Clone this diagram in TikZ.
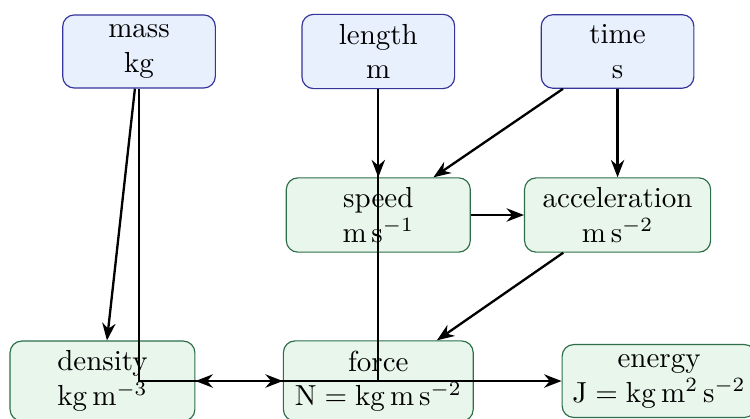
\documentclass[tikz,border=0pt]{standalone}
\usepackage{amsmath}
\usepackage{xcolor}
\usepackage{tikz}
\usetikzlibrary{arrows.meta}

\definecolor{baseline}{HTML}{34349A}
\definecolor{basefill}{HTML}{E8EFFD}
\definecolor{derivedline}{HTML}{2C6E49}
\definecolor{derivedfill}{HTML}{E9F6EC}

\begin{document}
\begin{tikzpicture}[
  base/.style={draw=baseline,fill=basefill,rounded corners=4pt,align=center,minimum width=1.85cm},
  derived/.style={draw=derivedline,fill=derivedfill,rounded corners=4pt,align=center},
  link/.style={thick,-{Stealth[length=6pt,width=4.6pt]}}]
\useasboundingbox (0,0) rectangle (9.09,-5.067);
\node[base] (mass) at (1.685,-0.624) {mass\\kg};
\node[base] (length) at (4.585,-0.624) {length\\m};
\node[base] (time) at (7.485,-0.624) {time\\s};
\node[derived,minimum width=2.23cm] (speed) at (4.585,-2.606) {speed\\$\mathrm{m\,s^{-1}}$};
\node[derived,minimum width=2.255cm] (acceleration) at (7.485,-2.606) {acceleration\\$\mathrm{m\,s^{-2}}$};
\node[derived,minimum width=2.24cm] (density) at (1.242,-4.618) {density\\$\mathrm{kg\,m^{-3}}$};
\node[derived,minimum width=2.30cm] (force) at (4.585,-4.618) {force\\$\mathrm{N}=\mathrm{kg\,m\,s^{-2}}$};
\node[derived,minimum width=2.35cm] (energy) at (7.988,-4.618) {energy\\$\mathrm{J}=\mathrm{kg\,m^{2}\,s^{-2}}$};
\draw[link] (mass) -- (density);
\draw[link] (mass) |- (force);
\draw[link] (length) -- (speed);
\draw[link] (length) |- (density);
\draw[link] (length) |- (energy);
\draw[link] (time) -- (speed);
\draw[link] (time) -- (acceleration);
\draw[link] (speed) -- (acceleration);
\draw[link] (acceleration) -- (force);
\end{tikzpicture}
\end{document}
